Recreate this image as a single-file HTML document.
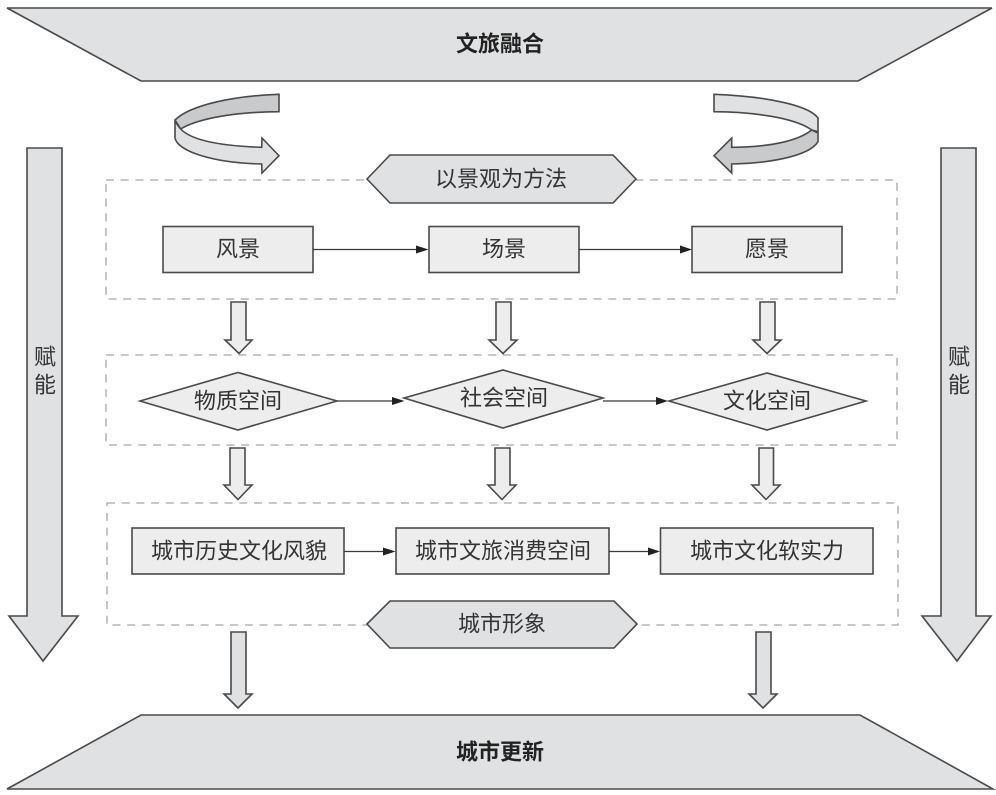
<!DOCTYPE html>
<html lang="zh">
<head>
<meta charset="utf-8">
<style>
html,body{margin:0;padding:0;background:#fff;}
svg{display:block;}
text{font-family:"Liberation Sans","Noto Sans CJK SC",sans-serif;font-size:22px;fill:#333;text-anchor:middle;dominant-baseline:central;}
.b{font-weight:700;fill:#222;}
.s{stroke:#4a4a4a;stroke-width:1.6;stroke-linejoin:miter;}
.d{fill:none;stroke:#a6a6a6;stroke-width:1.3;stroke-dasharray:8 6.7;}
.l{fill:none;stroke:#3a3a3a;stroke-width:1.3;}
.h{fill:#222;}
.f1{fill:#e0e1e2;}
.f2{fill:#ecedec;}
.f3{fill:#c9cacb;}
</style>
</head>
<body>
<svg width="996" height="795" viewBox="0 0 996 795" xmlns="http://www.w3.org/2000/svg">
<rect class="d" x="106" y="180" width="791" height="119"/>
<rect class="d" x="106" y="355" width="791" height="90"/>
<rect class="d" x="107" y="503" width="791" height="122"/>

<polygon class="s f1" points="7,8 992,8 858,81 141,81"/>
<polygon class="s f1" points="141,715 860,715 993,789 7,789"/>
<text class="b" x="500" y="44">文旅融合</text>
<text class="b" x="500" y="752">城市更新</text>

<polygon class="s f1" points="27,148 62,148 62,616 78,616 43,661 9,616 27,616"/>
<polygon class="s f1" points="941,148 976,148 976,616 991,616 957,661 922,616 941,616"/>
<text x="45" y="357">赋</text><text x="45" y="385">能</text>
<text x="959" y="357">赋</text><text x="959" y="385">能</text>

<!-- left swirl -->
<path class="s f3" d="M279,94.3 C233,96 190,105 175,120 L180.7,129 C197,119 233,112 279,111.7 Z"/>
<path class="s f1" d="M175,120 L175,138 C178,152 215,163 261.7,164 L262,173 L279,155.7 L262,138 L261.7,147.3 C222,146 192,141 180.7,129 C178,126 176,123 175,120 Z"/>
<!-- right swirl -->
<path class="s f1" d="M714,94.3 C760,96 808,104 818,118 L818,131.700 L811.700,130 C795,118 755,112 714,111.700 Z"/>
<path class="s f3" d="M811.700,130 L818,133 L818,141.700 C810,155 775,163 731.700,164 L731.700,173 L714,155.700 L731.700,138 L731.700,147.300 C770,147 798,141 811.700,130 Z"/>

<polygon class="s f1" points="367,179 390,155 613,155 636,179 613,203 390,203"/>
<text x="501" y="179">以景观为方法</text>
<polygon class="s f1" points="367,624 390,601 614,601 637,624 614,648 390,648"/>
<text x="502" y="624">城市形象</text>

<rect class="s f2" x="163" y="226.500" width="150" height="46"/>
<rect class="s f2" x="429" y="226.500" width="150" height="46"/>
<rect class="s f2" x="692" y="226.500" width="150" height="46"/>
<text x="238" y="249">风景</text>
<text x="504" y="249">场景</text>
<text x="767" y="249">愿景</text>
<line class="l" x1="313" y1="249.500" x2="420" y2="249.500"/><polygon class="h" points="428.500,249.500 416,245.500 416,253.500"/>
<line class="l" x1="579" y1="249.500" x2="684" y2="249.500"/><polygon class="h" points="692,249.500 680,245.500 680,253.500"/>

<polygon class="s f2" points="140,401 238,372.500 337,401 238,430"/>
<polygon class="s f2" points="404,398 503,370 603,398 503,428"/>
<polygon class="s f2" points="669,401 767,373 866,401 767,430"/>
<text x="238" y="401">物质空间</text>
<text x="504" y="398">社会空间</text>
<text x="767" y="401">文化空间</text>
<line class="l" x1="337" y1="401" x2="398" y2="401"/><polygon class="h" points="404.500,401 392,397 392,405"/>
<line class="l" x1="603" y1="401" x2="660" y2="401"/><polygon class="h" points="668,401 656,397 656,405"/>

<rect class="s f2" x="132" y="528" width="212" height="46"/>
<rect class="s f2" x="396" y="528" width="213" height="46"/>
<rect class="s f2" x="660.500" y="528" width="212.500" height="46"/>
<text x="239" y="551">城市历史文化风貌</text>
<text x="503" y="551">城市文旅消费空间</text>
<text x="767" y="551">城市文化软实力</text>
<line class="l" x1="344" y1="551.500" x2="388" y2="551.500"/><polygon class="h" points="395.500,551.500 383,547.500 383,555.500"/>
<line class="l" x1="609" y1="551.500" x2="653" y2="551.500"/><polygon class="h" points="660,551.500 648,547.500 648,555.500"/>

<polygon class="s f2" points="231,302 246,302 246,340 252,340 239,353.500 225,340 231,340"/>
<polygon class="s f2" points="496,302 511,302 511,340 517,340 503,353.500 489,340 496,340"/>
<polygon class="s f2" points="760,302 775,302 775,340 781,340 767,353.500 753,340 760,340"/>
<polygon class="s f2" points="230,448 245,448 245,485 252,485 238,499.500 224,485 230,485"/>
<polygon class="s f2" points="495,448 510,448 510,485 516,485 502,499.500 488,485 495,485"/>
<polygon class="s f2" points="759,448 773.500,448 773.500,485 780,485 766,499.500 752,485 759,485"/>
<polygon class="s f1" points="231,632 246,632 246,694 252,694 238,708 224,694 231,694"/>
<polygon class="s f1" points="756,632 771,632 771,694 777,694 763,708 749,694 756,694"/>
</svg>
</body>
</html>
